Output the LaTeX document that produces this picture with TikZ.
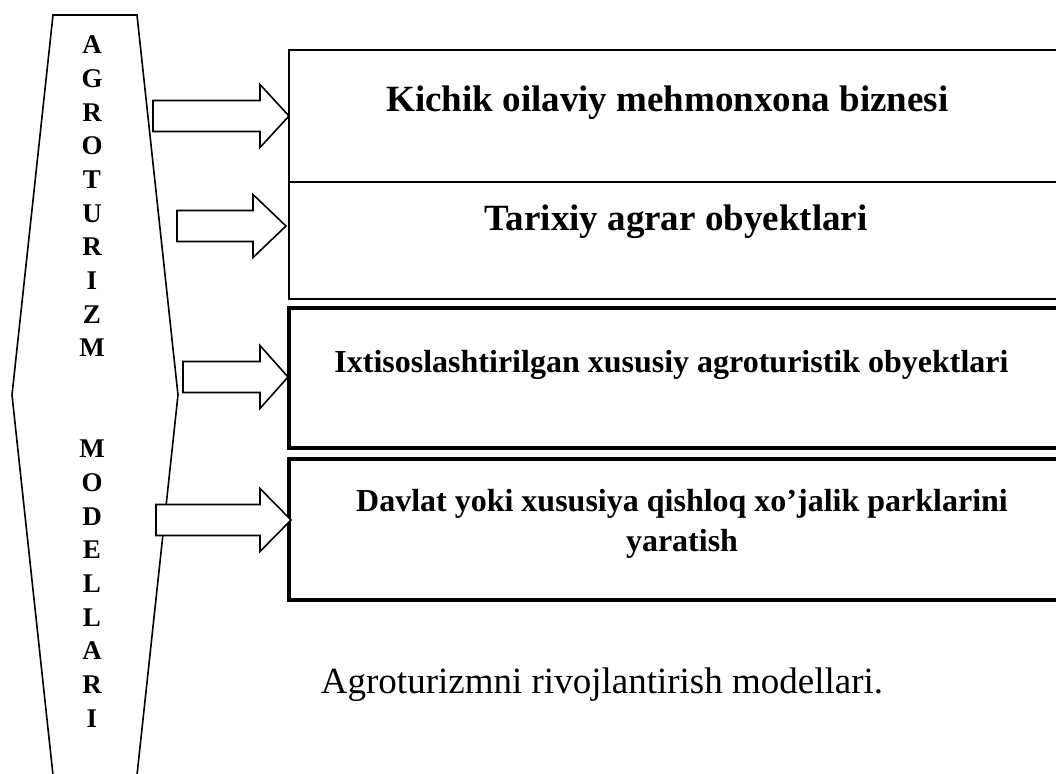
\documentclass[tikz,border=0pt]{standalone}
\usepackage{fontspec}
\setmainfont{Liberation Serif}
\usetikzlibrary{calc}
\tikzset{
  hexline/.style={line width=1.6pt, line join=miter},
  modelbox/.style={draw, anchor=north west, minimum width=900pt, inner sep=0pt, outer sep=0pt},
  bigtext/.style={anchor=base, inner sep=0pt, font=\fontsize{37pt}{44pt}\selectfont\bfseries},
  midtext/.style={anchor=base, inner sep=0pt, font=\fontsize{32pt}{40pt}\selectfont\bfseries},
  captext/.style={anchor=base, inner sep=0pt, font=\fontsize{37pt}{44pt}\selectfont},
  letter/.style={anchor=base, inner sep=0pt, font=\fontsize{27pt}{32pt}\selectfont\bfseries},
  barrow/.style={draw, fill=white, line width=1.6pt, line join=miter},
}
\newcommand\blockarrow[3]{%
  \draw[barrow] let \p1=(#1), \p2=(#2) in
    (\x1,\y1-15.5pt) -- (\x2-#3pt,\y1-15.5pt) -- (\x2-#3pt,\y1-31.5pt) -- (\x2,\y2)
    -- (\x2-#3pt,\y1+31.5pt) -- (\x2-#3pt,\y1+15.5pt) -- (\x1,\y1+15.5pt) -- cycle;}
\begin{document}
\begin{tikzpicture}[x=1pt, y=-1pt]
  \useasboundingbox (0,0) rectangle (1056,773);
  \fill[white] (0,0) rectangle (1056,773);
  \clip (0,0) rectangle (1056,773);

  % hexagon
  \coordinate (h1) at (53,15);
  \coordinate (h2) at (137,15);
  \coordinate (h3) at (178,395);
  \coordinate (h4) at (137,775);
  \coordinate (h5) at (53,775);
  \coordinate (h6) at (12,395);
  \draw[hexline] (h1) -- (h2) -- (h3) -- (h4) -- (h5) -- (h6) -- cycle;

  \foreach \ch [count=\i from 0] in {A,G,R,O,T,U,R,I,Z,M}
    \node[letter] (L\i) at (92,{54+33.65*\i}) {\ch};
  \foreach \ch [count=\i from 12] in {M,O,D,E,L,L,A,R,I}
    \node[letter] (L\i) at (92,{54+33.65*\i}) {\ch};

  % boxes
  \node[modelbox, line width=2pt, minimum height=132pt] (b1) at (289,50) {};
  \node[modelbox, line width=2.6pt, minimum height=117pt] (b2) at (289,182) {};
  \node[modelbox, line width=3.3pt, minimum height=140pt] (b3) at (289,308) {};
  \node[modelbox, line width=3.3pt, minimum height=141pt] (b4) at (289,459) {};

  % texts
  \node[bigtext] (k1) at (667.5,112) {Kichik oilaviy mehmonxona biznesi};
  \node[bigtext] (k2) at (676,230) {Tarixiy agrar obyektlari};
  \node[midtext] (k3) at (671.5,372) {Ixtisoslashtirilgan xususiy agroturistik obyektlari};
  \node[midtext] (k4a) at (682,511) {Davlat yoki xususiya qishloq xo’jalik parklarini};
  \node[midtext] (k4b) at (682,551) {yaratish};
  \node[captext] (cap) at (602,693) {Agroturizmni rivojlantirish modellari.};

  % arrows
  \coordinate (s1) at (153,116); \coordinate (t1) at (289,116);
  \coordinate (s2) at (177,226); \coordinate (t2) at (286,226);
  \coordinate (s3) at (183,377); \coordinate (t3) at (288,377);
  \coordinate (s4) at (156,520); \coordinate (t4) at (291,520);
  \blockarrow{s1}{t1}{29}
  \blockarrow{s2}{t2}{33}
  \blockarrow{s3}{t3}{28}
  \blockarrow{s4}{t4}{31}
\end{tikzpicture}
\end{document}
